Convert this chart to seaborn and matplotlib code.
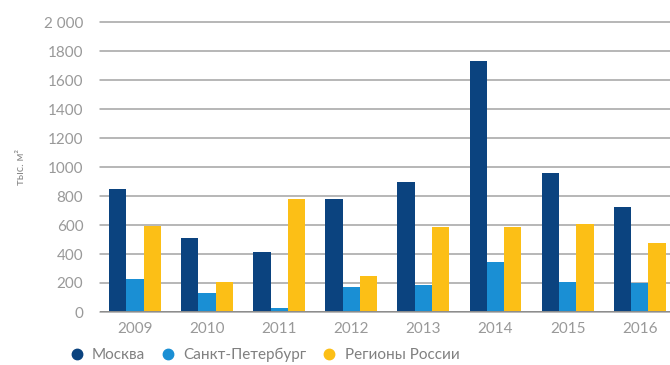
import matplotlib
matplotlib.use("Agg")
import matplotlib.pyplot as plt
from matplotlib.lines import Line2D
import seaborn as sns
import pandas as pd

# Ввод офисных площадей, тыс. м²
years = ["2009", "2010", "2011", "2012", "2013", "2014", "2015", "2016"]
moscow = [848, 510, 414, 780, 897, 1731, 959, 724]
spb = [225, 130, 25, 172, 186, 345, 207, 200]
regions = [590, 205, 779, 248, 586, 586, 605, 476]

series_names = ["Москва", "Санкт-Петербург", "Регионы России"]
colors = ["#0b437f", "#1a8fd4", "#fcbf16"]
yticks = [0, 200, 400, 600, 800, 1000, 1200, 1400, 1600, 1800, 2000]
ytick_labels = ["0", "200", "400", "600", "800", "1000", "1200", "1400", "1600", "1800", "2 000"]

df = pd.DataFrame({
    "year": years * 3,
    "value": moscow + spb + regions,
    "series": [series_names[0]] * 8 + [series_names[1]] * 8 + [series_names[2]] * 8,
})

sns.set_theme(style="white")
plt.rcParams["font.family"] = ["Lato", "DejaVu Sans"]

fig = plt.figure(figsize=(6.7, 3.65), dpi=100)
ax = fig.add_axes([100 / 670, 53 / 365, 570 / 670, 290 / 365])

sns.barplot(data=df, x="year", y="value", hue="series", palette=colors,
            width=0.72, gap=0, saturation=1, linewidth=0, ax=ax,
            legend=False, zorder=3)

ax.set_ylim(0, 2000)
ax.set_xlim(-0.485, 7.42)
ax.set_yticks(yticks)
ax.set_yticklabels(ytick_labels)
ax.yaxis.grid(True, color="#a3a3a3", linewidth=1.1, zorder=0)
ax.axhline(0, color="#8c8c8c", linewidth=1.4, zorder=4)
for s in ax.spines.values():
    s.set_visible(False)
for gl in ax.get_ygridlines():
    gl.set_clip_on(False)

ax.tick_params(axis="y", length=0, pad=12, labelsize=11, labelcolor="#999999")
ax.tick_params(axis="x", length=0, pad=7, labelsize=11, labelcolor="#999999")
ax.set_xlabel("")
ax.set_ylabel("тыс. м²", fontsize=8, color="#888888", labelpad=13)

handles = [Line2D([], [], linestyle="none", marker="o", markersize=7.5,
                  markerfacecolor=c, markeredgecolor=c) for c in colors]
fig.legend(handles, series_names, loc="center left", bbox_to_anchor=(69 / 670, 1 - 355 / 365),
           ncol=3, frameon=False, fontsize=11, labelcolor="#808080",
           handlelength=1.0, handletextpad=0.5, columnspacing=1.0,
           borderaxespad=0, borderpad=0)

fig.savefig("out.png", dpi=100)
